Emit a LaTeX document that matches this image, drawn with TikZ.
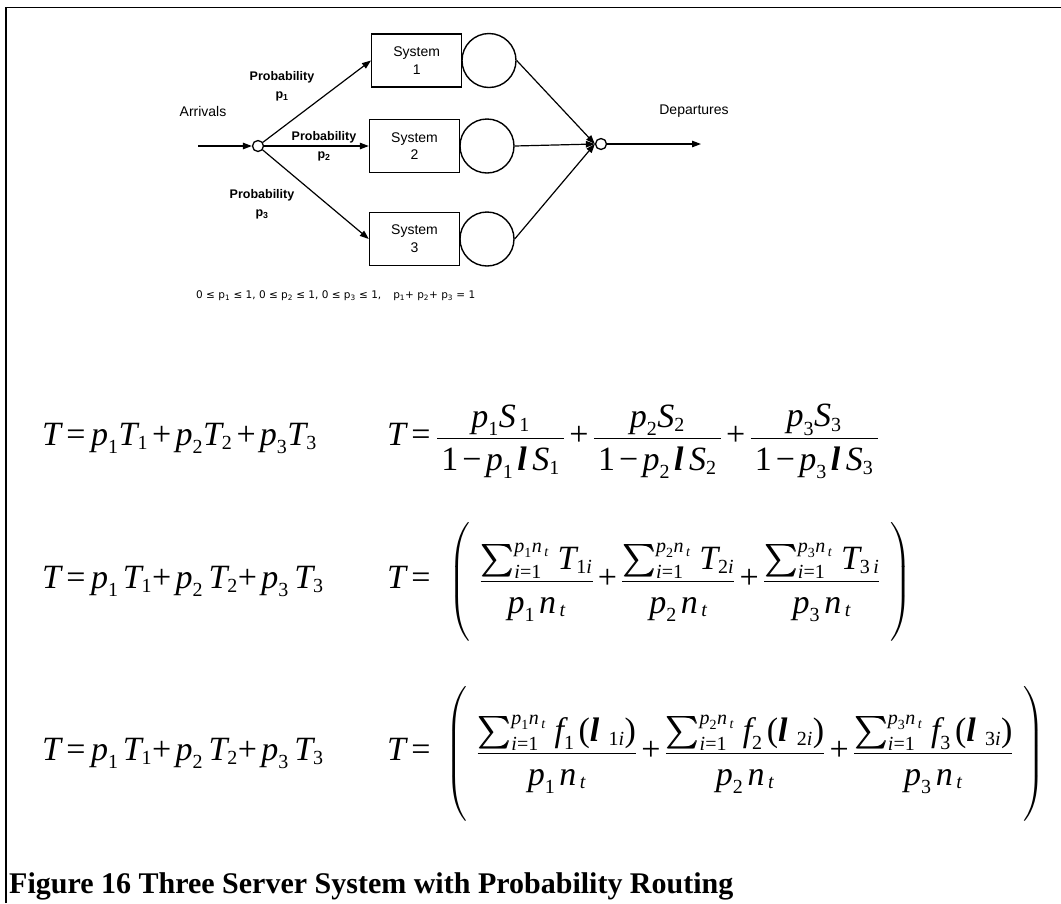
\documentclass[tikz,border=0pt]{standalone}
\usepackage{amsmath}
\usepackage{graphicx}
\usepackage{fontspec}
\usetikzlibrary{arrows.meta}
\setmainfont{Liberation Serif}
\newfontfamily\diagf{Liberation Sans}
\newfontfamily\notef{DejaVu Sans}
\newfontfamily\eqf{Liberation Serif}
\DeclareMathSizes{34}{34}{20}{14}

% formula pieces set in the serif text face
\newcommand\vi[1]{\text{\eqf\itshape #1}}
\newcommand\vu[1]{\text{\eqf\upshape #1}}
\newcommand\lam{\text{\eqf\bfseries\itshape l}}
\newcommand\eqs{\mathrel{\vu{=}}}
\newcommand\pls{\mathbin{\vu{+}}}
\newcommand\dn[1]{\raisebox{-8pt}{$\textstyle #1$}}
\newcommand\tight{\thickmuskip=4mu\medmuskip=3mu}
% a heavier, larger summation sign, limits set at the side
\newcommand\sumglyph{\scalebox{1.25}[1.3]{$\textstyle\sum$}}
\newcommand\bsum{\mathop{\rlap{\sumglyph}\kern1pt\sumglyph}\nolimits}

\tikzset{
  lbl/.style={font=\diagf\fontsize{14}{17.7}\selectfont, inner sep=0pt, align=center},
  prob/.style={font=\diagf\bfseries\fontsize{12.5}{18}\selectfont, inner sep=0pt, align=center},
  sysbox/.style={draw, line width=1.4pt, minimum width=90pt, minimum height=53pt,
    inner sep=0pt, align=center, font=\diagf\fontsize{14}{17.7}\selectfont},
  server/.style={draw, circle, line width=1.4pt, minimum size=54pt, inner sep=0pt},
  junction/.style={draw, circle, line width=1.3pt, minimum size=11pt, inner sep=0pt, fill=white},
  flow/.style={line width=1.2pt, -{Triangle[length=9pt,width=6.5pt]}},
  eq/.style={font=\fontsize{34}{40}\selectfont, inner sep=0pt, outer sep=0pt, anchor=base west},
  note/.style={font=\notef\fontsize{10.5}{12}\selectfont, inner sep=0pt},
  capt/.style={font=\bfseries\fontsize{30}{34}\selectfont, inner sep=0pt},
}

\begin{document}
\begin{tikzpicture}[x=1pt, y=-1pt]
\fill[white] (0,0) rectangle (1061,903);
\useasboundingbox (0,0) rectangle (1061,903);

% frame
\draw[line width=1.7pt] (6,903) -- (6,7.5) -- (1062,7.5);

% routing network
\node[sysbox] (sys1) at (416.7,60.5) {System\\1};
\node[sysbox] (sys2) at (414.5,146) {System\\2};
\node[sysbox] (sys3) at (414.5,239) {System\\3};
\node[server] (srv1) at (489,60.5) {};
\node[server] (srv2) at (487,146) {};
\node[server] (srv3) at (487,239) {};

\node[junction] (split) at (258,146) {};
\node[junction] (join) at (601,144) {};
\coordinate (src) at (198,146);
\coordinate (sink) at (701,144);

\node[lbl] (arr) at (203,111) {Arrivals};
\node[lbl] (dep) at (694,111) {Departures};
\node[prob] (pr1) at (282,86) {Probability\\p\textsubscript{1}};
\node[prob] (pr2) at (324,146.5) {Probability\\p\textsubscript{2}};
\node[prob] (pr3) at (262,204) {Probability\\p\textsubscript{3}};

\draw[flow] (src) -- (split);
\draw[flow] (split) -- (sys1.west);
\draw[flow] (split) -- (sys2.west);
\draw[flow] (split) -- (sys3.west);
\draw[flow] (srv1.east) -- (join.west);
\draw[flow] (srv2.east) -- (join.west);
\draw[flow] (srv3.east) -- (join.west);
\draw[flow] (join) -- (sink);

% constraints on the routing probabilities
\node[note, anchor=west] (cons) at (196,296) {0 ≤ p\textsubscript{1} ≤ 1, 0 ≤ p\textsubscript{2} ≤ 1, 0 ≤ p\textsubscript{3} ≤ 1,\hspace{12pt}p\textsubscript{1}+ p\textsubscript{2}+ p\textsubscript{3} = 1};

% response time, first form
\node[eq] (e1l) at (42,445) {$\tight\vi{T}\eqs\vi{p}_{\vu1}\vi{T}_{\vu1}\pls\vi{p}_{\vu2}\vi{T}_{\vu2}\pls\vi{p}_{\vu3}\vi{T}_{\vu3}$};
\node[eq] (e1t) at (387,445) {$\tight\vi{T}\eqs$};
\node[eq] (e1r) at (436,445) {$\tight\displaystyle
 \frac{\vi{p}_{\vu1}\vi{S}_{\,\vu1}}{\dn{\,\vu1\,\vu{−}\,\vi{p}_{\vu1}\,\lam\;\vi{S}_{\vu1}\,}}
 \pls\frac{\vi{p}_{\vu2}\vi{S}_{\vu2}}{\dn{\,\vu1\,\vu{−}\,\vi{p}_{\vu2}\,\lam\;\vi{S}_{\vu2}\,}}
 \pls\frac{\vi{p}_{\vu3}\vi{S}_{\vu3}}{\dn{\,\vu1\,\vu{−}\,\vi{p}_{\vu3}\,\lam\;\vi{S}_{\vu3}\,}}$};

% second form, from measured times
\node[eq] (e2l) at (42,588) {$\tight\vi{T}\eqs\vi{p}_{\vu1}\,\vi{T}_{\vu1}\vu{+}\,\vi{p}_{\vu2}\;\vi{T}_{\vu2}\vu{+}\,\vi{p}_{\vu3}\;\vi{T}_{\vu3}$};
\node[eq] (e2t) at (387,588) {$\tight\vi{T}\eqs$};
\node[eq] (e2r) at (448,588) {$\tight\displaystyle\left(\rule[-46pt]{0pt}{110pt}\;\,
 \frac{\bsum_{\vi{i}\vu{=}\vu1}^{\vi{p}_{\vu1}\vi{n}_{\,\vi{t}}}\,\vi{T}_{\vu1\vi{i}}}{\dn{\vi{p}_{\vu1}\,\vi{n}_{\,\vi{t}}}}
 \pls\frac{\bsum_{\vi{i}\vu{=}\vu1}^{\vi{p}_{\vu2}\vi{n}_{\,\vi{t}}}\,\vi{T}_{\vu2\vi{i}}}{\dn{\vi{p}_{\vu2}\,\vi{n}_{\,\vi{t}}}}
 \pls\frac{\bsum_{\vi{i}\vu{=}\vu1}^{\vi{p}_{\vu3}\vi{n}_{\,\vi{t}}}\,\vi{T}_{\vu3\,\vi{i}}}{\dn{\vi{p}_{\vu3}\,\vi{n}_{\,\vi{t}}}}
 \;\,\right)$};

% third form, from load functions
\node[eq] (e3l) at (42,760) {$\tight\vi{T}\eqs\vi{p}_{\vu1}\,\vi{T}_{\vu1}\vu{+}\,\vi{p}_{\vu2}\;\vi{T}_{\vu2}\vu{+}\,\vi{p}_{\vu3}\;\vi{T}_{\vu3}$};
\node[eq] (e3t) at (387,760) {$\tight\vi{T}\eqs$};
\node[eq] (e3r) at (445,760) {$\tight\displaystyle\left(\rule[-51pt]{0pt}{120pt}\;\,
 \frac{\bsum_{\vi{i}\vu{=}\vu1}^{\vi{p}_{\vu1}\vi{n}_{\,\vi{t}}}\,\vi{f}_{\vu1}\,\vu{(}\lam_{\;\;\vu1\vi{i}}\vu{)}}{\dn{\vi{p}_{\vu1}\,\vi{n}_{\,\vi{t}}}}
 \pls\frac{\bsum_{\vi{i}\vu{=}\vu1}^{\vi{p}_{\vu2}\vi{n}_{\,\vi{t}}}\,\vi{f}_{\vu2}\,\vu{(}\lam_{\;\;\vu2\vi{i}}\vu{)}}{\dn{\vi{p}_{\vu2}\,\vi{n}_{\,\vi{t}}}}
 \pls\frac{\bsum_{\vi{i}\vu{=}\vu1}^{\vi{p}_{\vu3}\vi{n}_{\,\vi{t}}}\,\vi{f}_{\vu3}\,\vu{(}\lam_{\;\;\vu3\vi{i}}\vu{)}}{\dn{\vi{p}_{\vu3}\,\vi{n}_{\,\vi{t}}}}
 \;\,\right)$};

% caption
\node[capt, anchor=base west] (cap) at (9,893) {Figure 16 Three Server System with Probability Routing};
\end{tikzpicture}
\end{document}
